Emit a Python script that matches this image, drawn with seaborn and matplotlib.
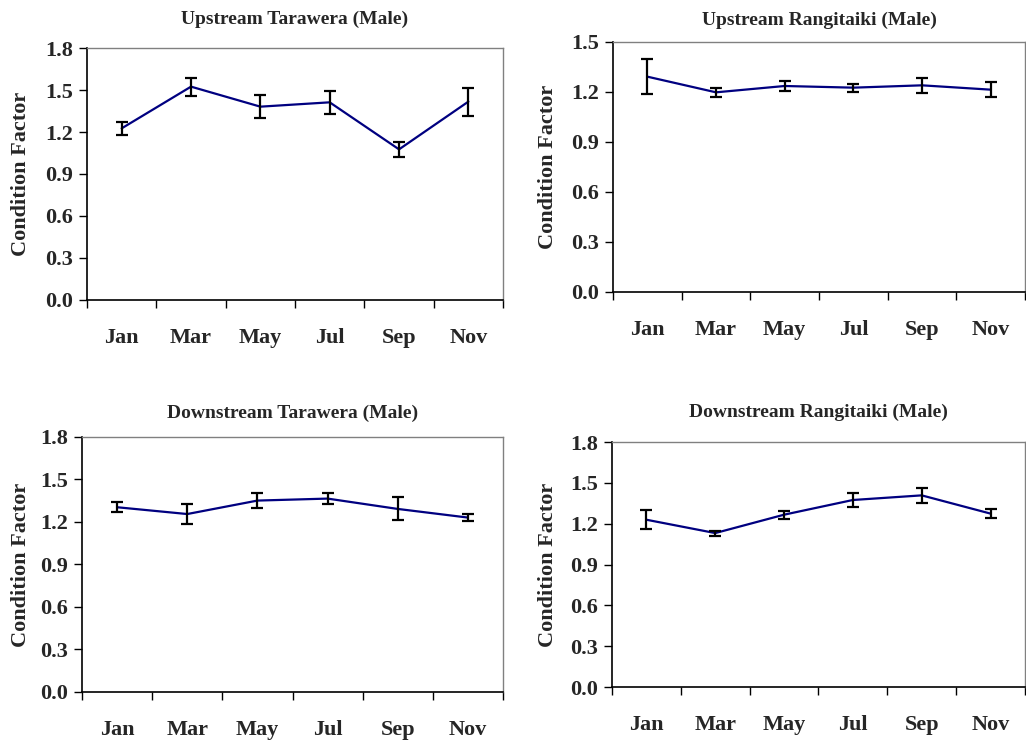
import numpy as np
import pandas as pd
import matplotlib
matplotlib.use("Agg")
import matplotlib.pyplot as plt
import seaborn as sns
from matplotlib.ticker import FixedLocator

months = ["Jan", "Mar", "May", "Jul", "Sep", "Nov"]

titles = ["Upstream Tarawera (Male)", "Upstream Rangitaiki (Male)",
          "Downstream Tarawera (Male)", "Downstream Rangitaiki (Male)"]

up_tarawera = [1.226, 1.524, 1.381, 1.412, 1.076, 1.417]
up_tarawera_err = [0.048, 0.065, 0.081, 0.080, 0.054, 0.100]

up_rangitaiki = [1.292, 1.198, 1.236, 1.226, 1.240, 1.214]
up_rangitaiki_err = [0.105, 0.027, 0.031, 0.024, 0.045, 0.044]

down_tarawera = [1.304, 1.256, 1.351, 1.365, 1.292, 1.231]
down_tarawera_err = [0.035, 0.073, 0.053, 0.039, 0.081, 0.026]

down_rangitaiki = [1.229, 1.131, 1.266, 1.374, 1.408, 1.274]
down_rangitaiki_err = [0.070, 0.018, 0.028, 0.048, 0.056, 0.031]

y_max = [1.8, 1.5, 1.8, 1.8]

sns.set_style("white")
plt.rcParams['font.family'] = ['Liberation Serif', 'DejaVu Serif']
plt.rcParams['font.weight'] = 'bold'

fig = plt.figure(figsize=(10.26, 7.42), dpi=100)
boxes = [
    [0.0848, 0.5957, 0.4055, 0.3396],
    [0.5975, 0.6065, 0.4015, 0.3369],
    [0.0799, 0.0674, 0.4104, 0.3437],
    [0.5965, 0.0741, 0.4025, 0.3302],
]
# y-label right edge, in axes fraction
ylab_x = [-0.134, -0.133, -0.121, -0.131]
title_pad = [17, 12, 14, 18]

series = [(up_tarawera, up_tarawera_err), (up_rangitaiki, up_rangitaiki_err),
          (down_tarawera, down_tarawera_err), (down_rangitaiki, down_rangitaiki_err)]

for i, (box, title, (vals, errs), ym) in enumerate(zip(boxes, titles, series, y_max)):
    ax = fig.add_axes(box)
    df = pd.DataFrame({"Month": months, "CF": vals, "err": errs})
    ax.errorbar(df["Month"], df["CF"], yerr=df["err"], fmt="none",
                ecolor="black", elinewidth=1.6, capsize=4, capthick=1.6, zorder=3)
    sns.lineplot(data=df, x="Month", y="CF", ax=ax, color="#000080",
                 linewidth=1.6, sort=False, zorder=2)
    ax.set_xlim(-0.5, 5.5)
    ax.set_ylim(0, ym)
    yt = np.arange(0, ym + 0.01, 0.3)
    ax.set_yticks(yt)
    ax.set_yticklabels([f"{v:.1f}" for v in yt])
    # ticks on category boundaries, labels at centers
    ax.xaxis.set_major_locator(FixedLocator(np.arange(-0.5, 6, 1)))
    ax.xaxis.set_minor_locator(FixedLocator(np.arange(0, 6, 1)))
    ax.set_xticklabels([], minor=False)
    ax.set_xticklabels(months, minor=True)
    ax.tick_params(axis="x", which="major", direction="out", length=6, width=1, color="black", bottom=True)
    ax.tick_params(axis="x", which="minor", length=0, pad=20, labelsize=16)
    ax.tick_params(axis="y", direction="out", length=6, width=1, color="black", left=True, labelsize=16, pad=4)
    for lab in ax.get_xticklabels(minor=True) + ax.get_yticklabels():
        lab.set_fontweight("bold")
    for s in ["left", "bottom"]:
        ax.spines[s].set_color("black")
        ax.spines[s].set_linewidth(1.2)
    for s in ["top", "right"]:
        ax.spines[s].set_color("#808080")
        ax.spines[s].set_linewidth(1.0)
    ax.set_xlabel("")
    ax.set_ylabel("Condition Factor", fontsize=16, fontweight="bold")
    ax.yaxis.set_label_coords(ylab_x[i], 0.5)
    ax.set_title(title, fontsize=14, fontweight="bold", pad=title_pad[i])

fig.savefig("out.png", dpi=100)
